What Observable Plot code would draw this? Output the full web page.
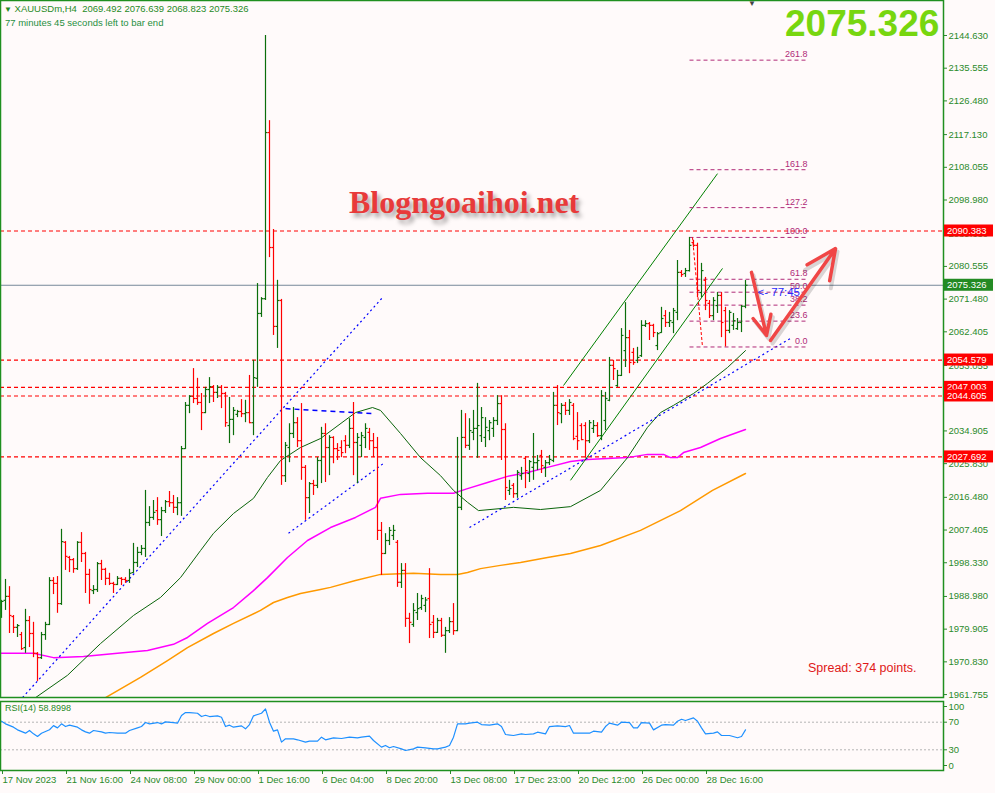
<!DOCTYPE html>
<html><head><meta charset="utf-8">
<script src="https://cdn.jsdelivr.net/npm/d3@7"></script>
<script src="https://cdn.jsdelivr.net/npm/@observablehq/plot@0.6"></script>
<style>
body{margin:0;background:#fffafa;width:995px;height:793px;overflow:hidden;position:relative;font-family:"Liberation Sans",Arial,sans-serif}
#p1{position:absolute;left:0;top:0}
#p2{position:absolute;left:0;top:700px}
.ov{position:absolute;white-space:nowrap;line-height:1}
</style></head><body>
<div id="p1"></div><div id="p2"></div>
<div class="ov" style="left:4px;top:4px;font-size:9.5px;color:#1f8a1f"><span style="font-size:8px">&#9660;</span>&nbsp;XAUUSDm,H4&nbsp;&nbsp;2069.492 2076.639 2068.823 2075.326</div>
<div class="ov" style="left:5px;top:18px;font-size:9.5px;color:#1f8f3f">77 minutes 45 seconds left to bar end</div>
<div class="ov" style="left:748px;top:0px;font-size:8px;color:#444">&#9660;</div>
<div class="ov" style="left:785px;top:5px;font-size:37px;font-weight:bold;color:#77d60f">2075.326</div>
<div class="ov" style="left:349px;top:186px;font-size:32px;font-weight:bold;font-family:'Liberation Serif','Times New Roman',serif;color:#e83a3a;text-shadow:3px 4px 4px rgba(0,0,0,0.35)">Blogngoaihoi.net</div>
<div class="ov" style="left:808px;top:662px;font-size:12.5px;color:#e01818">Spread: 374 points.</div>
<div class="ov" style="left:5px;top:704px;font-size:9px;color:#1f8a1f">RSI(14) 58.8998</div>
<script>
// ---- OHLC (H4 bars, index 0 = 17 Nov 2023) ----
const opens = [1984.5,1987.9,1989.0,1983.4,1980.4,1978.4,1974.8,1982.3,1978.7,1973.2,1972.0,1978.4,1981.2,1993.4,1992.6,1987.0,2004.0,1999.8,1999.2,1996.7,
2004.0,2000.9,1995.1,1990.6,1990.9,1998.1,1996.5,1994.0,1992.6,1992.3,1994.0,1993.7,1993.4,1995.6,1998.4,2001.2,2002.3,2009.5,2010.9,2012.8,
2010.3,2012.8,2015.3,2015.0,2013.7,2015.0,2030.0,2042.0,2044.5,2043.9,2042.8,2040.0,2046.4,2047.2,2045.6,2047.0,2045.3,2036.4,2038.1,2039.5,
2040.3,2039.7,2040.0,2037.2,2049.5,2067.5,2071.6,2117.7,2085.8,2063.9,2071.1,2022.5,2030.3,2034.2,2037.2,2032.2,2024.8,2016.4,2020.3,2019.8,
2026.7,2034.2,2030.3,2033.1,2030.0,2030.3,2032.2,2030.9,2035.6,2031.7,2030.9,2033.1,2034.5,2032.2,2030.3,2007.3,2000.9,2004.5,2005.9,2004.0,
1992.9,1996.2,1982.9,1981.2,1984.5,1985.9,1986.5,1988.4,1981.8,1979.0,1982.3,1978.2,1979.5,1982.0,1979.5,2013.7,2033.1,2030.9,2034.5,2035.6,
2033.6,2033.1,2035.0,2035.6,2037.8,2042.5,2035.3,2018.4,2019.8,2017.5,2022.5,2027.3,2023.1,2024.8,2026.1,2028.1,2024.8,2026.1,2026.7,2042.0,
2039.7,2042.0,2040.6,2042.0,2033.4,2036.4,2036.4,2032.2,2035.6,2036.4,2033.6,2037.8,2043.4,2053.1,2047.5,2050.3,2057.2,2060.8,2056.7,2054.5,
2055.8,2064.2,2064.7,2064.2,2058.6,2062.2,2066.9,2065.0,2065.0,2067.8,2078.9,2078.6,2079.4,2087.2,2086.4,2073.3,2076.7,2070.3,2066.9,2069.7,
2072.5,2068.3,2062.8,2064.2,2063.3,2065.0,2069.492];
const highs = [1987.9,1993.7,1991.7,1983.7,1981.2,1979.0,1985.4,1983.4,1981.8,1973.4,1979.0,1981.8,1994.2,1994.2,1994.5,2007.6,2004.2,2000.1,1999.5,2004.2,
2006.7,2001.2,1996.5,1992.0,1998.4,1999.0,1996.8,1995.4,1992.9,1994.5,1994.2,1994.2,1996.5,2003.7,2002.6,2003.1,2018.4,2013.9,2015.6,2016.4,
2013.7,2015.6,2018.1,2017.0,2016.4,2030.6,2042.8,2044.7,2052.2,2049.5,2045.3,2047.0,2049.7,2047.5,2047.5,2047.5,2045.6,2044.2,2041.4,2040.6,
2043.6,2043.4,2050.3,2054.5,2075.8,2071.9,2144.6,2121.0,2090.8,2076.7,2071.4,2031.7,2036.9,2041.4,2038.6,2042.5,2025.3,2020.6,2021.2,2027.5,
2035.9,2036.9,2033.6,2033.3,2031.4,2032.2,2033.6,2038.3,2042.8,2034.2,2034.5,2036.9,2035.6,2034.2,2033.1,2009.5,2006.4,2008.1,2008.7,2004.5,
1998.1,1998.1,1984.3,1987.0,1989.8,1989.3,1988.7,1996.7,1983.7,1982.9,1982.9,1980.4,1983.1,1987.0,2033.1,2040.6,2039.7,2038.3,2040.6,2048.1,
2041.4,2038.6,2037.8,2038.6,2044.7,2044.7,2036.9,2021.2,2020.3,2023.9,2024.8,2027.8,2026.7,2034.2,2028.1,2029.5,2026.7,2028.1,2045.6,2047.5,
2042.5,2042.8,2043.6,2042.5,2040.0,2036.9,2037.2,2037.8,2037.8,2037.2,2046.1,2045.6,2055.3,2054.5,2051.7,2063.3,2070.5,2062.8,2057.8,2058.1,
2065.5,2065.5,2065.0,2064.5,2062.2,2069.2,2068.3,2067.8,2068.9,2082.2,2079.4,2080.0,2088.6,2087.8,2087.0,2081.4,2077.5,2071.1,2071.9,2073.3,
2073.3,2069.2,2068.3,2067.5,2066.1,2069.7,2076.639];
const lows = [1982.9,1985.1,1978.7,1978.7,1977.6,1974.0,1973.2,1974.8,1972.0,1965.4,1971.5,1976.8,1980.9,1989.5,1984.3,1986.5,1996.2,1995.6,1995.4,1996.2,
1998.4,1989.8,1986.8,1989.5,1990.1,1993.4,1992.0,1992.0,1989.8,1992.0,1992.0,1992.6,1992.6,1995.4,1997.0,2000.3,1999.8,2008.4,2010.1,2008.7,
2005.6,2012.0,2013.7,2012.0,2011.4,2011.2,2029.8,2039.7,2042.5,2042.0,2035.0,2039.7,2042.5,2042.8,2043.9,2041.1,2035.9,2031.4,2033.6,2038.6,
2038.6,2037.2,2036.9,2033.6,2047.0,2066.4,2071.1,2083.0,2061.4,2057.8,2019.8,2020.6,2026.1,2032.8,2030.3,2021.2,2010.1,2012.0,2017.0,2018.9,
2020.3,2020.6,2022.5,2025.8,2026.7,2027.5,2028.6,2030.0,2022.5,2020.3,2027.5,2030.0,2029.5,2027.5,2004.5,1994.8,2000.6,2003.1,2004.5,1991.5,
1991.2,1980.4,1975.9,1980.4,1982.3,1985.1,1984.5,1977.3,1977.3,1978.7,1977.6,1973.2,1978.7,1978.2,1979.2,2012.8,2030.0,2029.5,2032.2,2027.3,
2031.7,2030.3,2032.2,2033.1,2036.4,2026.7,2015.6,2017.0,2016.2,2016.2,2021.2,2018.9,2020.6,2021.2,2023.9,2023.1,2022.0,2025.3,2026.1,2036.4,
2036.9,2039.2,2039.2,2032.2,2029.5,2032.2,2027.3,2031.4,2034.2,2033.1,2032.2,2035.0,2043.0,2048.9,2047.0,2050.0,2052.5,2050.8,2053.1,2053.6,
2055.3,2063.6,2060.0,2060.8,2057.2,2062.0,2063.6,2063.6,2061.9,2065.5,2077.5,2077.5,2079.0,2085.8,2071.9,2071.9,2068.3,2066.1,2065.5,2067.5,
2060.8,2058.2,2061.9,2062.8,2062.8,2062.2,2068.823];
const closes = [1987.6,1989.0,1983.7,1980.4,1980.9,1974.5,1982.3,1978.7,1973.2,1972.0,1978.4,1981.2,1993.4,1992.6,1987.0,2004.2,2000.1,1999.2,1996.7,2004.0,
2000.9,1995.1,1990.9,1990.9,1998.1,1996.5,1994.0,1992.6,1992.3,1994.0,1993.7,1993.4,1995.4,1998.4,2001.2,2002.3,2009.5,2010.9,2012.3,2010.3,
2012.8,2015.3,2015.0,2013.7,2015.0,2030.0,2042.0,2044.5,2043.9,2042.8,2040.0,2046.4,2047.2,2045.6,2047.0,2045.3,2037.2,2038.1,2040.6,2040.3,
2039.7,2040.0,2037.2,2049.7,2067.5,2071.6,2117.7,2085.8,2063.9,2071.1,2022.5,2030.9,2034.2,2037.2,2032.2,2024.8,2016.4,2020.3,2019.8,2026.7,
2034.2,2030.3,2033.1,2030.0,2029.5,2028.9,2030.9,2035.6,2031.7,2033.1,2033.6,2035.6,2032.2,2030.3,2007.3,2000.9,2004.5,2007.3,2007.3,1992.9,
1996.2,1982.9,1981.8,1985.1,1985.6,1988.4,1988.0,1981.2,1979.0,1982.3,1978.2,1979.5,1982.0,1979.5,2013.7,2033.1,2030.9,2035.0,2035.6,2036.4,
2038.6,2035.9,2037.2,2037.8,2042.5,2035.3,2019.2,2018.9,2017.5,2023.4,2023.1,2023.9,2026.4,2026.1,2026.7,2025.3,2026.1,2027.0,2042.0,2040.0,
2042.0,2040.6,2042.8,2032.8,2032.2,2032.5,2032.2,2037.2,2036.4,2033.6,2044.7,2043.9,2053.1,2052.2,2050.3,2061.4,2060.8,2053.9,2053.9,2055.3,
2064.2,2064.7,2064.2,2062.2,2061.9,2066.1,2065.0,2065.5,2068.3,2078.9,2078.3,2079.4,2086.4,2086.4,2073.9,2079.4,2071.1,2066.9,2071.1,2072.5,
2065.0,2062.8,2067.8,2065.5,2065.0,2069.5,2075.326];

// ---- Moving averages (bar index, price) ----
const maGreenIdx = [6,8.5,16.5,24.75,33,39.75,44.75,49.75,53,58,63,66.5,69.75,74.75,79.75,88.5,92.75,94.75,99.75,104.75,109.75,113,116.5,119.25,128,134.75,142.25,149.75,156.5,161.5,164.75,168,173,176.5,181.5,186];
const maGreenVal = [1958.7,1960.9,1967.1,1975.9,1983.7,1988.7,1994.2,2001.7,2006.5,2012.0,2016.2,2022.0,2026.7,2030.3,2032.8,2040.0,2041.4,2040.6,2034.2,2027.5,2022.5,2018.4,2015.1,2012.8,2013.7,2013.1,2013.9,2018.4,2027.5,2035.9,2040.0,2042.0,2045.3,2048.1,2052.5,2057.2];
const maMagIdx = [-0.25,8,13,20.5,29,36.5,43,46.5,51.5,58,63,66.5,71.5,76.5,82.25,88.5,93.5,94.75,99.75,106.5,113,116.5,121.5,126.5,131.5,136.5,142.25,146.5,156.5,161.5,165.5,167.25,169,170.5,174.75,179.75,186];
const maMagVal = [1973.2,1973.2,1972.0,1972.3,1973.2,1974.0,1975.7,1977.6,1981.5,1985.9,1990.6,1994.2,1999.8,2004.5,2008.1,2010.9,2013.7,2016.2,2017.3,2017.6,2017.6,2018.9,2020.6,2022.3,2023.4,2024.8,2026.4,2027.0,2027.5,2028.4,2028.4,2027.5,2027.5,2028.9,2030.3,2032.8,2035.3];
const maOrangeIdx = [23.5,26,34.75,41.5,46.5,53,58,64.75,68,71.5,74.75,79.75,82.25,88.5,94.75,103,109.75,114,116.5,119.75,124.75,129.75,136.5,142.25,149.75,159.75,169.75,177.75,186];
const maOrangeVal = [1958.7,1960.9,1966.5,1971.2,1974.8,1978.7,1981.5,1985.1,1987.3,1988.7,1989.8,1990.9,1991.5,1993.4,1995.1,1995.4,1995.1,1995.1,1995.6,1996.7,1997.6,1998.4,1999.8,2000.9,2003.1,2007.3,2012.8,2018.4,2023.1];

// ---- RSI(14) ----
const rsiIdx = [0,1,3,4,6,7,8,9,10,12,13,14,15,16,17,19,20,21,22,23,25,26,27,29,31,32,34,35,36,37,39,40,41,43,44,45,46,47,49,50,51,52,54,55,56,57,58,60,61,62,63,65,66,67,68,69,70,71,73,74,76,77,79,80,81,83,85,87,89,90,92,93,95,96,97,98,100,101,103,104,106,108,109,111,112,113,114,116,117,119,120,122,124,125,126,128,130,131,133,134,136,137,139,141,142,143,145,147,148,150,151,152,154,155,157,158,159,160,162,163,165,166,168,169,170,171,173,174,175,176,178,179,180,182,184,185,186];
const rsiVal = [71.4,67.6,62.8,58.9,54.1,58,53.1,49.3,54,59,65,61.8,67.6,63.7,65.7,62.8,58.9,56,54.1,58,56,54.1,55.1,54.1,54.1,58,61.8,63.7,69.5,67.6,69.5,67.6,70.5,69.5,68.6,79.6,84,84,83,78.2,80.1,78.2,79.2,77.2,63.7,65.7,62.8,64.7,60.4,66.6,79.2,83,89.3,70,57,58.9,41.1,45.9,45.9,44.5,41.1,42.5,42.5,48.3,44.5,47.4,46.4,48.3,47.4,48.3,49.8,43.5,33.9,36.3,32.9,34.8,31.4,29,31.4,33.9,32.9,31.4,31.4,33.9,36.3,48.3,67.6,67.6,68.6,70,66.6,65.7,67.6,63.7,52.2,50.7,53.1,52.2,53.1,55.5,53.1,63.7,64.7,63.7,65.2,54.1,54.1,54.1,57,55.5,63.7,68.6,65.7,70,69.5,61.8,61.8,69.5,68.6,58.9,65.7,66.6,65.7,71.4,74.3,72.4,76.3,71.4,61.8,53.1,54.1,56,50.7,50.7,47.4,49.3,58.9];
const rsiMidTicks = [30,70];
const rsiTopTick = [100];
const rsiBottomTick = [0];
const rsiLevels = [30,70];

// ---- axis ticks ----
const priceTicks = [2144.630,2135.555,2126.480,2117.130,2108.055,2098.980,2089.630,2080.555,2071.480,2062.405,2053.055,2043.980,2034.905,2025.830,2016.480,2007.405,1998.330,1988.980,1979.905,1970.830,1961.755];
const timeTickIdx = [0,16,32,48,64,80,96,112,128,144,160,176];
const timeTickLabels = ["17 Nov 2023","21 Nov 16:00","24 Nov 08:00","29 Nov 00:00","1 Dec 16:00","6 Dec 04:00","8 Dec 20:00","13 Dec 08:00","17 Dec 23:00","20 Dec 12:00","26 Dec 00:00","28 Dec 16:00"];

// ---- horizontal levels ----
const redLevels = [2090.383,2054.579,2047.003,2044.605,2027.692];
const currentPrice = 2075.326;

// ---- drawn objects (bar index, price) ----
const dotTrendX1 = [5.25,71.75,117];
const dotTrendY1 = [1960.9,2006.5,2008.1];
const dotTrendX2 = [95.25,95.5,197.25];
const dotTrendY2 = [2071.9,2025.9,2060.6];
const dashTrendX1 = [71], dashTrendY1 = [2041.1], dashTrendX2 = [93], dashTrendY2 = [2039.7];
const chanX1 = [140.5,142.25];
const chanY1 = [2047.5,2021.2];
const chanX2 = [179,180.25];
const chanY2 = [2106.3,2080.0];
const fibLevels = [0,23.6,38.2,50,61.8,100,127.2,161.8,261.8];
const fibLabels = ["0.0","23.6","38.2","50.0","61.8","100.0","127.2","161.8","261.8"];
const fibHigh = 2088.6, fibLow = 2058.2, fibStart = 172, fibEnd = 201.5;
const fibDiagX = [172.75,175.25];
const arrowX1 = [187.5,192.25], arrowY1 = [2078.9,2060.0], arrowX2 = [191.25,208.5], arrowY2 = [2061.4,2085.5];
const timerText = "<- 77:45", timerIdx = 189, timerPrice = 2073.3;

// ---- build ----
const UP = "#0b6e0b", DN = "#ff0000", FR = "#1f8f1f", AX = "#2b8a2b";
const xDom = [-0.25, 235.5];
const bars = opens.map((o,i)=>({i,o,h:highs[i],l:lows[i],c:closes[i]}));
const upB = bars.filter(d=>d.c>=d.o), dnB = bars.filter(d=>d.c<d.o);
const z = (a,b)=>a.map((v,i)=>({i:v,v:b[i]}));
const seg = (x1,y1,x2,y2)=>x1.map((x,k)=>({x1:x,y1:y1[k],x2:x2[k],y2:y2[k]}));
const dotTrends = seg(dotTrendX1,dotTrendY1,dotTrendX2,dotTrendY2);
const dashTrends = seg(dashTrendX1,dashTrendY1,dashTrendX2,dashTrendY2);
const chans = seg(chanX1,chanY1,chanX2,chanY2);
const fibs = fibLevels.map((l,k)=>({p: fibLow + (fibHigh-fibLow)*l/100, t: fibLabels[k]}));
const arrows = seg(arrowX1,arrowY1,arrowX2,arrowY2);
const font = "'Liberation Sans',Arial,sans-serif";
const L = {x1:"x1",y1:"y1",x2:"x2",y2:"y2"};

function barMarks(data, color){
  return [
    Plot.ruleX(data,{x:"i",y1:"l",y2:"h",stroke:color,strokeWidth:1.2}),
    Plot.link(data,{x1:d=>d.i-0.5,x2:"i",y1:"o",y2:"o",stroke:color,strokeWidth:1.2}),
    Plot.link(data,{x1:"i",x2:d=>d.i+0.5,y1:"c",y2:"c",stroke:color,strokeWidth:1.2})
  ];
}

const price = Plot.plot({
  width:995, height:700, marginLeft:0, marginRight:52, marginTop:0, marginBottom:3,
  style:{background:"none", fontFamily:font, fontSize:"9.5px", overflow:"visible"},
  x:{domain:xDom, axis:null},
  y:{domain:[1960.94,2154.34], axis:null},
  marks:[
    Plot.ruleY(redLevels,{stroke:"#ff0000",strokeDasharray:"4,3",strokeWidth:1.2}),
    Plot.ruleY([currentPrice],{stroke:"#778899",strokeWidth:1}),
    Plot.line(z(maOrangeIdx,maOrangeVal),{x:"i",y:"v",stroke:"#ff9900",strokeWidth:1.5,clip:true}),
    Plot.line(z(maMagIdx,maMagVal),{x:"i",y:"v",stroke:"#ff00ff",strokeWidth:1.5,clip:true}),
    Plot.line(z(maGreenIdx,maGreenVal),{x:"i",y:"v",stroke:"#0a640a",strokeWidth:1,clip:true}),
    Plot.link(dotTrends,{...L,stroke:"#0000ff",strokeWidth:1.2,strokeDasharray:"2,3",clip:true}),
    Plot.link(dashTrends,{...L,stroke:"#0000ff",strokeWidth:1.5,strokeDasharray:"5,4"}),
    Plot.link(chans,{...L,stroke:"#008000",strokeWidth:1}),
    Plot.link(fibs,{x1:()=>fibStart,x2:()=>fibEnd,y1:"p",y2:"p",stroke:"#b02a78",strokeDasharray:"4,3",strokeWidth:1}),
    Plot.link([0],{x1:()=>fibDiagX[0],x2:()=>fibDiagX[1],y1:()=>fibHigh,y2:()=>fibLow,stroke:"#ff0000",strokeDasharray:"3,2",strokeWidth:1}),
    Plot.text(fibs,{x:()=>fibEnd,y:"p",text:"t",textAnchor:"end",dy:-6,fill:"#b02a78",fontSize:9}),
    ...barMarks(upB,UP),
    ...barMarks(dnB,DN),
    Plot.text([timerText],{x:()=>timerIdx,y:()=>timerPrice,text:d=>d,textAnchor:"start",fill:"#2a2aff",fontSize:11.5}),
    Plot.arrow(arrows,{...L,stroke:"#000",strokeOpacity:0.15,strokeWidth:4,headLength:14,headAngle:50,dx:2,dy:3}),
    Plot.arrow(arrows,{...L,stroke:"#f04646",strokeWidth:3.5,headLength:14,headAngle:50}),
    Plot.axisY({anchor:"right",ticks:priceTicks,tickFormat:d=>d.toFixed(3),tickSize:3,tickPadding:2,fill:AX,stroke:AX,label:null}),
    Plot.frame({stroke:FR,strokeWidth:1.5})
  ]
});
document.getElementById("p1").appendChild(price);

// right-axis price boxes
const ys = price.scale("y");
const svg = d3.select(price);
const boxes = redLevels.map(v=>({v,bg:"#ff0000"})).concat([{v:currentPrice,bg:"#238a23"}]);
const g = svg.append("g").attr("text-anchor","start").attr("font-family","Liberation Sans, Arial").attr("font-size","9.5px");
boxes.forEach(b=>{
  const y = ys.apply(b.v);
  g.append("rect").attr("x",944).attr("y",y-6).attr("width",49).attr("height",12).attr("fill",b.bg);
  g.append("text").attr("x",947).attr("y",y+3.5).attr("fill","#fff").text(b.v.toFixed(3));
});

const rsi = Plot.plot({
  width:995, height:93, marginLeft:0, marginRight:52, marginTop:1, marginBottom:23,
  style:{background:"none", fontFamily:font, fontSize:"9.5px", overflow:"visible"},
  x:{domain:xDom, axis:null},
  y:{domain:[0,100], axis:null},
  marks:[
    Plot.ruleY(rsiLevels,{stroke:"#b4b4b4",strokeDasharray:"2,2"}),
    Plot.line(z(rsiIdx,rsiVal),{x:"i",y:"v",stroke:"#1e90ff",strokeWidth:1.2}),
    Plot.axisY({anchor:"right",ticks:rsiMidTicks,tickSize:3,tickPadding:2,fill:AX,stroke:AX,label:null}),
    Plot.axisY({anchor:"right",ticks:rsiTopTick,tickSize:3,tickPadding:2,fill:AX,stroke:AX,label:null,dy:5}),
    Plot.axisY({anchor:"right",ticks:rsiBottomTick,tickSize:3,tickPadding:2,fill:AX,stroke:AX,label:null,dy:-5}),
    Plot.axisX({anchor:"bottom",ticks:timeTickIdx,tickFormat:d=>timeTickLabels[timeTickIdx.indexOf(d)],tickSize:4,tickPadding:2,textAnchor:"start",dx:1,fill:AX,stroke:AX,label:null}),
    Plot.frame({stroke:FR,strokeWidth:1.5})
  ]
});
document.getElementById("p2").appendChild(rsi);
</script>
</body></html>
